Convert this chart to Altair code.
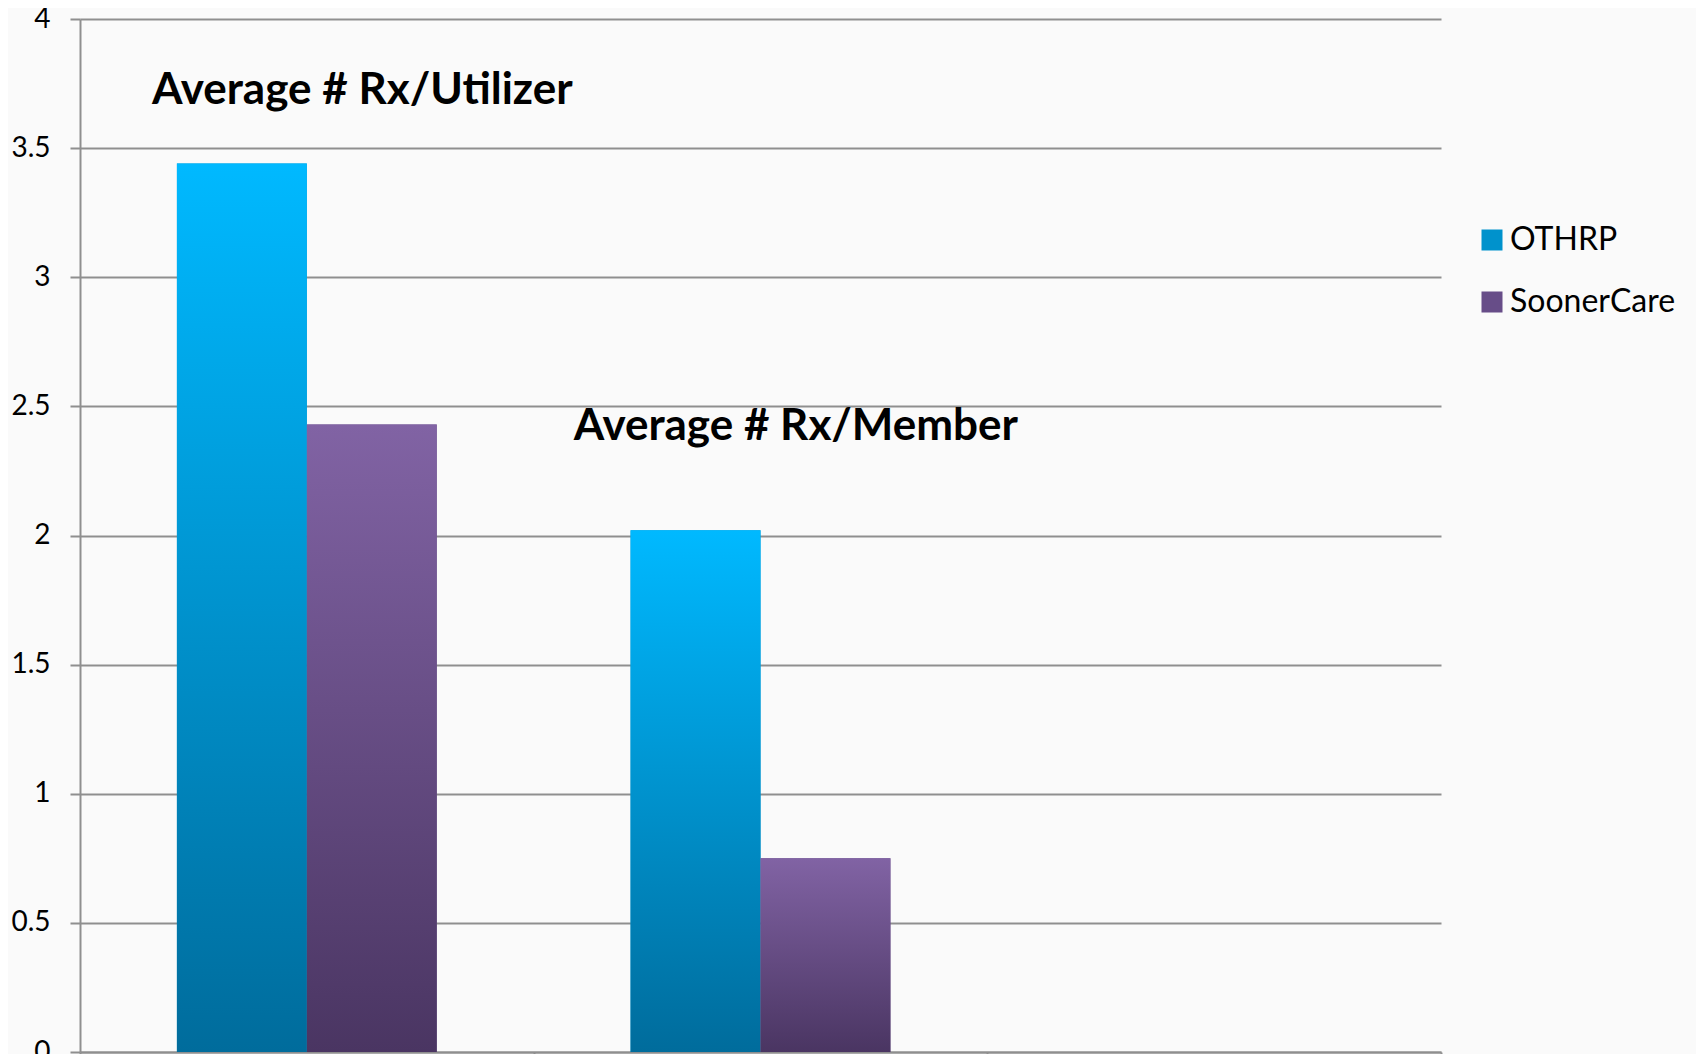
import altair as alt
import pandas as pd

categories = ["Average # Rx/Utilizer", "Average # Rx/Member", " "]
series_names = ["OTHRP", "SoonerCare"]
othrp_values = [3.44, 2.02]
soonercare_values = [2.43, 0.75]
y_ticks = [0, 0.5, 1, 1.5, 2, 2.5, 3, 3.5, 4]

annot_text = ["Average # Rx/Utilizer", "Average # Rx/Member"]
annot_y = [3.72, 2.42]

rows = []
for i, c in enumerate(categories[:2]):
    rows.append({"category": c, "series": "OTHRP", "value": othrp_values[i]})
    rows.append({"category": c, "series": "SoonerCare", "value": soonercare_values[i]})
df = pd.DataFrame(rows)

adf = pd.DataFrame({"category": categories[:2], "text": annot_text, "y": annot_y})

FONT = "Lato"
GRAY = "#8f8f8f"

def grad(top, bottom):
    return {"gradient": "linear", "x1": 0, "y1": 0, "x2": 0, "y2": 1,
            "stops": [{"offset": 0, "color": top}, {"offset": 1, "color": bottom}]}

x_enc = alt.X("category:N",
              scale=alt.Scale(domain=categories, paddingInner=0, paddingOuter=0),
              axis=alt.Axis(labels=False, title=None, tickBand="extent", tickSize=10,
                            tickColor=GRAY, tickWidth=2, domainColor=GRAY, domainWidth=2,
                            grid=False))
xo_enc = alt.XOffset("series:N", scale=alt.Scale(domain=series_names, paddingInner=0, paddingOuter=0.746))
y_enc = alt.Y("value:Q",
              scale=alt.Scale(domain=[0, 4], nice=False),
              axis=alt.Axis(values=y_ticks, format="~g", title=None, tickSize=10,
                            tickColor=GRAY, tickWidth=2, domainColor=GRAY, domainWidth=2,
                            gridColor=GRAY, gridWidth=2, labelFontSize=28, labelFont=FONT,
                            labelColor="#000000", labelPadding=20))

base_bars = alt.Chart(df).mark_bar().encode(
    x=x_enc, xOffset=xo_enc, y=y_enc,
    color=alt.Color("series:N",
                    scale=alt.Scale(domain=series_names, range=["#0092CC", "#674D88"]),
                    legend=alt.Legend(title=None, orient="none", legendX=1396, legendY=205,
                                      symbolType="square", symbolSize=441, symbolStrokeWidth=0,
                                      labelFontSize=32, labelFont=FONT, labelColor="#000000",
                                      labelOffset=2, rowPadding=30, labelLimit=400))
)

othrp_bars = alt.Chart(df).transform_filter(alt.datum.series == "OTHRP").mark_bar(
    fill=grad("#00B9FF", "#006C9C")
).encode(x="category:N", xOffset="series:N", y="value:Q")

sc_bars = alt.Chart(df).transform_filter(alt.datum.series == "SoonerCare").mark_bar(
    fill=grad("#8163A4", "#4A3562")
).encode(x="category:N", xOffset="series:N", y="value:Q")

ann1 = alt.Chart(adf).transform_filter(alt.datum.text == annot_text[0]).mark_text(
    align="left", baseline="middle", font=FONT, fontWeight="bold", fontSize=44, color="#000000", dx=72
).encode(x=alt.X("category:N", bandPosition=0), y="y:Q", text="text:N")

ann2 = alt.Chart(adf).transform_filter(alt.datum.text == annot_text[1]).mark_text(
    align="left", baseline="middle", font=FONT, fontWeight="bold", fontSize=44, color="#000000", dx=40
).encode(x=alt.X("category:N", bandPosition=0), y="y:Q", text="text:N")

chart = alt.layer(base_bars, othrp_bars, sc_bars, ann1, ann2).properties(
    width=1361, height=1033,
    autosize=alt.AutoSizeParams(type="none"),
    padding={"left": 72, "top": 11, "right": 255, "bottom": 2},
    background="#FAFAFA",
).configure_view(stroke=None)

chart.save("out.html", embed_options={"renderer": "svg", "actions": False})
